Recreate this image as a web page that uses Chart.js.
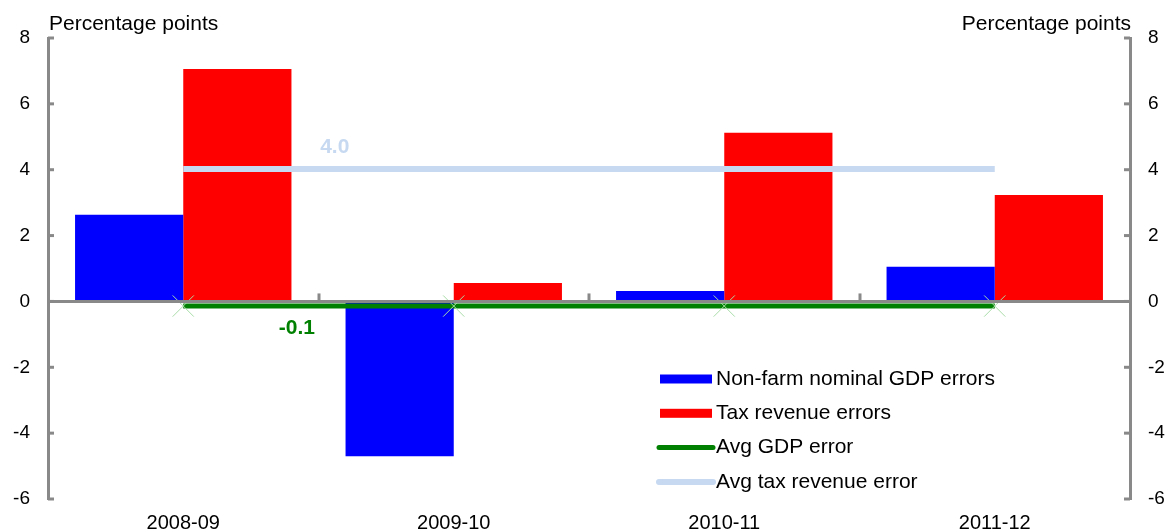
<!DOCTYPE html>
<html><head><meta charset="utf-8">
<script src="https://cdn.jsdelivr.net/npm/chart.js@4"></script>
<style>html,body{margin:0;padding:0;background:#fff}#wrap{width:1171px;height:532px;position:relative}</style>
</head><body><div id="wrap"><canvas id="c"></canvas></div>
<script>
const categories = ['2008-09', '2009-10', '2010-11', '2011-12'];
const gdpErrors = [2.63, -4.70, 0.32, 1.05];
const taxErrors = [7.06, 0.56, 5.12, 3.23];
const avgGdpError = [-0.14, -0.14, -0.14, -0.14];
const avgTaxError = [4.02, 4.02, 4.02, 4.02];
const yMin = -6, yMax = 8, yStep = 2;
const axisTitle = 'Percentage points';

const GRAY = '#898989';
const FONT = "'Liberation Sans', Arial, sans-serif";

const deco = {
  id: 'deco',
  afterDatasetsDraw(chart) {
    const {ctx, chartArea: a, scales: {x, y, y2}} = chart;
    ctx.save();
    ctx.strokeStyle = GRAY; ctx.lineWidth = 3; ctx.lineCap = 'butt';
    const y0 = y.getPixelForValue(0);
    ctx.beginPath(); ctx.moveTo(a.left, y0); ctx.lineTo(a.right, y0); ctx.stroke();
    for (let i = 1; i < categories.length; i++) {
      const px = Math.round((x.getPixelForValue(i - 1) + x.getPixelForValue(i)) / 2);
      ctx.beginPath(); ctx.moveTo(px, y0); ctx.lineTo(px, y0 - 8); ctx.stroke();
    }
    y.ticks.forEach((t, i) => { const py = y.getPixelForTick(i); ctx.beginPath(); ctx.moveTo(a.left, py); ctx.lineTo(a.left + 6, py); ctx.stroke(); });
    y2.ticks.forEach((t, i) => { const py = y2.getPixelForTick(i); ctx.beginPath(); ctx.moveTo(a.right, py); ctx.lineTo(a.right - 6, py); ctx.stroke(); });
    ctx.restore();
  },
  afterDraw(chart) {
    const {ctx, chartArea: a, scales: {x, y}} = chart;
    ctx.save();
    ctx.fillStyle = '#000'; ctx.font = '21px ' + FONT; ctx.textBaseline = 'middle';
    ctx.textAlign = 'left'; ctx.fillText(axisTitle, a.left + 1, 24);
    ctx.textAlign = 'right'; ctx.fillText(axisTitle, a.right + 1, 24);
    const labelStyle = [{ds: 2, frac: 0.42, dy: 22, color: '#008000'}, {ds: 3, frac: 0.56, dy: -22, color: '#c6d9f1'}];
    ctx.font = 'bold 21px ' + FONT; ctx.textAlign = 'center';
    labelStyle.forEach(s => {
      const v = chart.data.datasets[s.ds].data[0];
      const px = x.getPixelForValue(0) + s.frac * (x.getPixelForValue(1) - x.getPixelForValue(0));
      ctx.fillStyle = s.color;
      ctx.fillText(v.toFixed(1), px, y.getPixelForValue(v) + s.dy);
    });
    const L = 660, W = 52, TX = 716, Y0 = 379, DY = 34.3;
    ctx.textAlign = 'left'; ctx.font = '21px ' + FONT;
    chart.data.datasets.forEach((ds, i) => {
      const cy = Y0 + i * DY;
      if (ds.type === 'line') {
        ctx.strokeStyle = ds.borderColor; ctx.lineWidth = ds.borderWidth; ctx.lineCap = 'round';
        ctx.beginPath(); ctx.moveTo(L - 1, cy); ctx.lineTo(L + W + 1, cy); ctx.stroke();
      } else {
        ctx.fillStyle = ds.backgroundColor; ctx.fillRect(L, cy - 4.5, W, 9);
      }
      ctx.fillStyle = '#000'; ctx.fillText(ds.label, TX, cy);
    });
    ctx.restore();
  }
};

const yScaleBase = (pos, width) => ({
  type: 'linear', position: pos, min: yMin, max: yMax,
  ticks: {stepSize: yStep, color: '#000', font: {family: FONT, size: 19}, padding: 18},
  grid: {display: false, drawTicks: false},
  border: {display: true, color: GRAY, width: 3},
  afterFit(s) { s.width = width; }
});

new Chart(document.getElementById('c'), {
  data: {
    labels: categories,
    datasets: [
      {type: 'bar', label: 'Non-farm nominal GDP errors', data: gdpErrors, backgroundColor: '#0000ff', borderWidth: 0, order: 2, yAxisID: 'y'},
      {type: 'bar', label: 'Tax revenue errors', data: taxErrors, backgroundColor: '#ff0000', borderWidth: 0, order: 2, yAxisID: 'y'},
      {type: 'line', label: 'Avg GDP error', data: avgGdpError, borderColor: '#008000', borderWidth: 5, pointStyle: 'crossRot', pointRadius: 15, pointBorderColor: '#a8dca8', pointBorderWidth: 1, pointBackgroundColor: 'transparent', order: 1, yAxisID: 'y'},
      {type: 'line', label: 'Avg tax revenue error', data: avgTaxError, borderColor: '#c6d9f1', borderWidth: 6, pointRadius: 0, order: 0, yAxisID: 'y'}
    ]
  },
  options: {
    responsive: true, maintainAspectRatio: false, animation: false, devicePixelRatio: 1,
    layout: {padding: {top: 38, left: 0, right: 0, bottom: 0}},
    datasets: {bar: {categoryPercentage: 0.8, barPercentage: 1}},
    plugins: {legend: {display: false}, tooltip: {enabled: false}},
    scales: {
      x: {
        grid: {display: false, drawTicks: false}, border: {display: false},
        ticks: {color: '#000', font: {family: FONT, size: 20}, padding: 12, maxRotation: 0},
        afterFit(s) { s.height = 33; }
      },
      y: yScaleBase('left', 48),
      y2: yScaleBase('right', 41)
    }
  },
  plugins: [deco]
});
</script>
</body></html>
